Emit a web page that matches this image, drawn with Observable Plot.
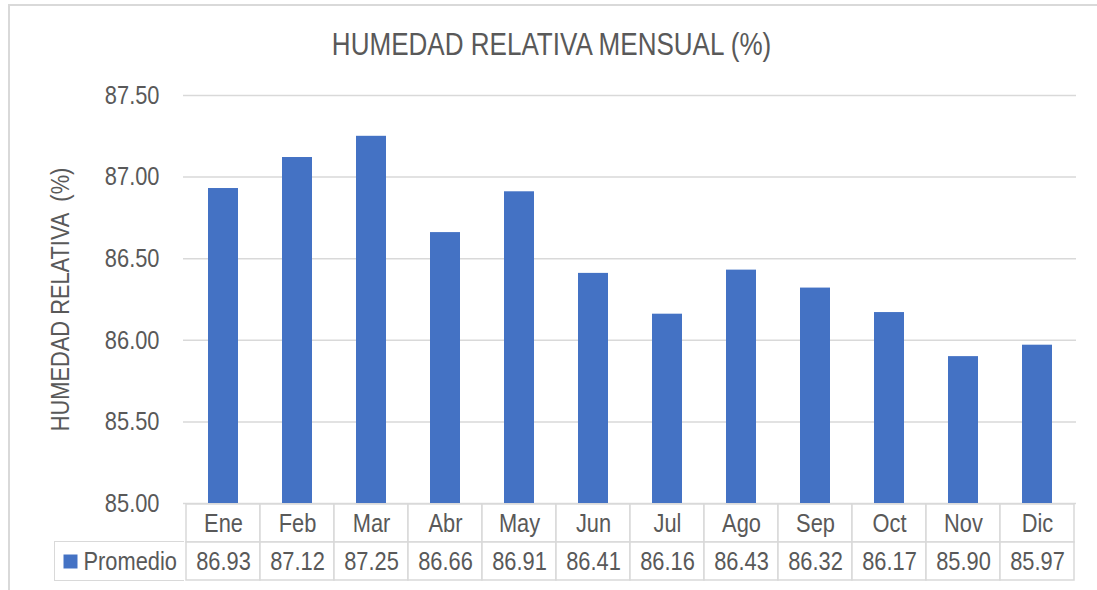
<!DOCTYPE html>
<html>
<head>
<meta charset="utf-8">
<script src="https://cdn.jsdelivr.net/npm/d3@7"></script>
<script src="https://cdn.jsdelivr.net/npm/@observablehq/plot@0.6"></script>
<style>
  html, body { margin: 0; padding: 0; background: #fff; }
  #wrap { position: relative; width: 1097px; height: 590px; overflow: hidden;
          font-family: "Liberation Sans Narrow", "Arial Narrow", "Liberation Sans", Arial, sans-serif; color: #595959; }
  #frame { position: absolute; left: 8px; top: 4px; width: 1200px; height: 700px; border: 2px solid #d9d9d9; box-sizing: border-box; }
  #title { position: absolute; left: 0; top: 25px; width: 1103px; text-align: center; font-size: 31px; line-height: 40px; color: #595959; }
  #title span { display: inline-block; transform: scaleX(0.84); transform-origin: 50% 50%; white-space: nowrap; }
  #main { position: absolute; left: 0; top: 0; }
  #table { position: absolute; left: 0; top: 502px; }
  #labelcell { position: absolute; left: 54px; top: 541px; width: 130px; height: 40px; border: 1.5px solid #d9d9d9; border-right: none; box-sizing: border-box; }
  svg text { font-family: "Liberation Sans Narrow", "Arial Narrow", "Liberation Sans", Arial, sans-serif; }
</style>
</head>
<body>
<div id="wrap">
  <div id="frame"></div>
  <div id="title"><span>HUMEDAD RELATIVA MENSUAL (%)</span></div>
  <div id="main"></div>
  <div id="labelcell"></div>
  <div id="table"></div>
</div>
<script>
const meses = ["Ene","Feb","Mar","Abr","May","Jun","Jul","Ago","Sep","Oct","Nov","Dic"];
const promedio = [86.93, 87.12, 87.25, 86.66, 86.91, 86.41, 86.16, 86.43, 86.32, 86.17, 85.90, 85.97];
const serie = "Promedio";
const yTicks = [85.00, 85.50, 86.00, 86.50, 87.00, 87.50];
const yLabel = "HUMEDAD RELATIVA  (%)";
const headerRow = "Mes";

const blue = "#4472C4";
const grid = "#d9d9d9";
const textColor = "#595959";
const narrow = 0.84;
const data = meses.map((m, i) => ({mes: m, valor: promedio[i]}));
const yMin = yTicks[0], yMax = yTicks[yTicks.length - 1];

const W = 1097, mL = 183, mR = 21;

// emulate a narrow typeface: compress every SVG text horizontally around its anchor x
function condense(svg) {
  svg.querySelectorAll("text").forEach(t => {
    let x = parseFloat(t.getAttribute("x"));
    if (!isFinite(x)) x = 0;
    const T = t.getAttribute("transform") || "";
    t.setAttribute("transform", `${T} translate(${x},0) scale(${narrow},1) translate(${-x},0)`.trim());
    t.style.whiteSpace = "pre";
  });
  return svg;
}

const main = Plot.plot({
  width: W,
  height: 504,
  marginLeft: mL,
  marginRight: mR,
  marginTop: 95,
  marginBottom: 1,
  style: {background: "transparent", color: textColor, fontSize: "26px", overflow: "visible"},
  x: {domain: meses, paddingInner: 0.6, paddingOuter: 0.3, axis: null},
  y: {domain: [yMin, yMax], ticks: yTicks, tickFormat: d3.format(".2f")},
  marks: [
    Plot.gridY(yTicks, {stroke: grid, strokeOpacity: 1, strokeWidth: 1.5}),
    Plot.axisY(yTicks, {tickSize: 0, tickPadding: 24, fontSize: 26, fill: textColor, label: null, tickFormat: d3.format(".2f")}),
    Plot.barY(data, {x: "mes", y1: () => yMin, y2: "valor", fill: blue, inset: 0}),
    Plot.text([yLabel], {text: d => d, frameAnchor: "left", dx: -123, rotate: -90, textAnchor: "middle", fontSize: 26, fill: textColor})
  ]
});
document.getElementById("main").appendChild(condense(main));

const table = Plot.plot({
  width: W,
  height: 88,
  marginLeft: mL,
  marginRight: mR,
  marginTop: 1,
  marginBottom: 10,
  style: {background: "transparent", color: textColor, fontSize: "26px", overflow: "visible"},
  x: {domain: meses, padding: 0, axis: null},
  y: {domain: [headerRow, serie], padding: 0, axis: null},
  marks: [
    Plot.cell(meses, {x: d => d, y: () => headerRow, fill: "white", stroke: grid, strokeWidth: 1.5, inset: 0}),
    Plot.cell(data, {x: "mes", y: () => serie, fill: "white", stroke: grid, strokeWidth: 1.5, inset: 0}),
    Plot.text(meses, {x: d => d, y: () => headerRow, text: d => d, fontSize: 26, fill: textColor}),
    Plot.text(data, {x: "mes", y: () => serie, text: d => d3.format(".2f")(d.valor), fontSize: 26, fill: textColor}),
    Plot.dot([serie], {y: d => d, frameAnchor: "left", dx: -113, symbol: "square", r: 7.9, fill: blue, stroke: null}),
    Plot.text([serie], {y: d => d, frameAnchor: "left", dx: -100, text: d => d, textAnchor: "start", fontSize: 26, fill: textColor})
  ]
});
document.getElementById("table").appendChild(condense(table));
</script>
</body>
</html>
